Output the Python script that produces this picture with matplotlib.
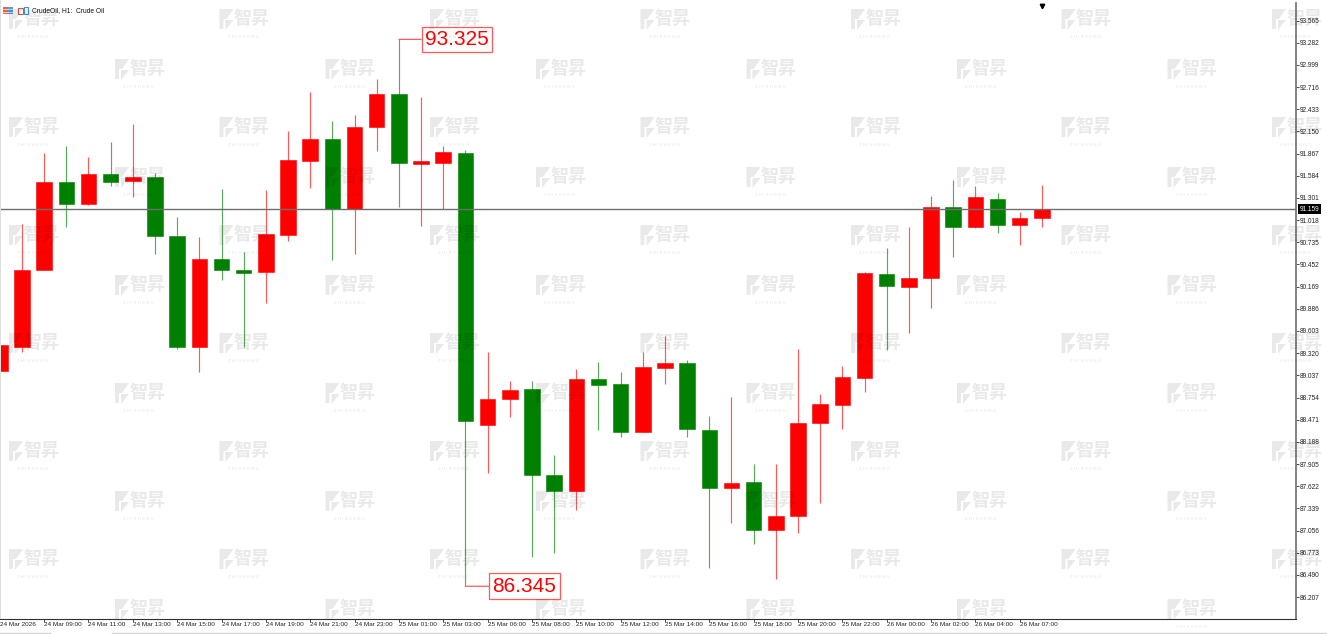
#!/usr/bin/env python3
"""CrudeOil H1 candlestick chart, MT5 look, with the ZHISHENG watermark."""

import matplotlib
matplotlib.use("Agg")
import matplotlib.pyplot as plt
from matplotlib.patches import Polygon, Rectangle
import numpy as np

W, H = 1327, 634
DPI = 100

opens = [89.088, 89.402, 90.377, 91.508, 91.227, 91.606, 91.513, 91.568, 90.819, 89.394, 90.525, 90.385,
         90.352, 90.832, 91.776, 92.049, 91.163, 92.202, 92.631, 91.738, 91.750, 91.878, 88.407, 88.731,
         88.862, 87.765, 87.557, 88.994, 88.922, 88.317, 89.130, 89.190, 88.339, 87.603, 87.675, 87.059,
         87.241, 88.432, 88.662, 88.999, 90.330, 90.164, 90.279, 91.189, 90.926, 91.287, 90.959, 91.041]
highs = [89.420, 90.964, 91.870, 91.967, 91.823, 92.011, 92.241, 91.619, 91.054, 90.802, 91.411, 90.611,
         91.402, 92.159, 92.657, 92.279, 92.355, 92.815, 93.325, 92.593, 91.960, 91.913, 89.331, 88.968,
         88.960, 88.020, 89.114, 89.203, 89.075, 89.331, 89.542, 89.232, 88.518, 88.764, 87.905, 87.905,
         89.369, 88.798, 89.156, 90.359, 90.658, 90.930, 91.329, 91.530, 91.453, 91.360, 91.125, 91.466]
lows = [89.088, 89.334, 90.377, 90.926, 91.207, 91.453, 91.317, 90.581, 89.377, 89.083, 90.253, 89.402,
        89.956, 90.755, 91.424, 90.509, 90.581, 91.900, 91.185, 90.946, 91.156, 86.345, 87.794, 88.501,
        86.722, 86.769, 87.318, 88.343, 88.253, 88.317, 88.930, 88.253, 86.574, 87.156, 86.884, 86.433,
        87.028, 87.403, 88.352, 88.820, 89.360, 89.573, 89.892, 90.543, 90.917, 90.857, 90.696, 90.934]
closes = [89.420, 90.381, 91.508, 91.227, 91.606, 91.504, 91.568, 90.819, 89.394, 90.525, 90.377, 90.347,
          90.837, 91.781, 92.053, 91.163, 92.206, 92.623, 91.750, 91.772, 91.887, 88.458, 88.738, 88.853,
          87.768, 87.557, 88.994, 88.917, 88.310, 89.139, 89.198, 88.348, 87.603, 87.666, 87.059, 87.241,
          88.428, 88.667, 89.012, 90.339, 90.173, 90.279, 91.189, 90.926, 91.313, 90.959, 91.049, 91.160]

price_ticks = [93.565, 93.282, 92.999, 92.716, 92.433, 92.150, 91.867, 91.584, 91.301, 91.018, 90.735,
               90.452, 90.169, 89.886, 89.603, 89.320, 89.037, 88.754, 88.471, 88.188, 87.905, 87.622,
               87.339, 87.056, 86.773, 86.490, 86.207]
time_ticks = [2, 4, 6, 8, 10, 12, 14, 16, 18, 20, 22, 24, 26, 28, 30, 32, 34, 36, 38, 40, 42, 44, 46]
time_labels = ["24 Mar 09:00", "24 Mar 11:00", "24 Mar 13:00", "24 Mar 15:00", "24 Mar 17:00", "24 Mar 19:00",
               "24 Mar 21:00", "24 Mar 23:00", "25 Mar 01:00", "25 Mar 03:00", "25 Mar 06:00", "25 Mar 08:00",
               "25 Mar 10:00", "25 Mar 12:00", "25 Mar 14:00", "25 Mar 16:00", "25 Mar 18:00", "25 Mar 20:00",
               "25 Mar 22:00", "26 Mar 00:00", "26 Mar 02:00", "26 Mar 04:00", "26 Mar 07:00"]
first_label = "24 Mar 2026"
last_price = 91.159
high_label = 93.325
low_label = 86.345
title = "CrudeOil, H1:  Crude Oil"

UP = "#ff0000"
DOWN = "#008000"
FONT = ["Liberation Sans", "DejaVu Sans"]

fig = plt.figure(figsize=(W / DPI, H / DPI), dpi=DPI, facecolor="white")
ax = fig.add_axes([0, (H - 619) / H, 1296 / W, 616 / H])
ax.set_xlim(0.009, 58.46)
ax.set_ylim(85.927, 93.789)

o, h, l, c = map(np.array, (opens, highs, lows, closes))
x = np.arange(len(o))
colors = [UP if b >= a else DOWN for a, b in zip(o, c)]
ax.vlines(x, l, h, colors=colors, lw=0.85, alpha=0.65, zorder=2)
ax.bar(x, np.abs(c - o), bottom=np.minimum(o, c), width=0.70, color=colors,
       edgecolor=colors, lw=0.4, zorder=3)

ax.axhline(last_price, color="#6e6e6e", lw=1.0, zorder=4)
ax.plot(x[-1], 93.789 - 0.035, marker="v", ms=3.2, color="k", clip_on=True, zorder=5)

# axis frame, MT5 style
for side in ("top", "left"):
    ax.spines[side].set_visible(False)
ax.spines["right"].set_color("#7a7a7a")
ax.spines["right"].set_linewidth(1.3)
ax.spines["bottom"].set_color("#303030")
ax.spines["bottom"].set_linewidth(0.8)
ax.yaxis.tick_right()
ax.set_yticks(price_ticks)
ax.set_yticklabels([f"{v:.3f}" for v in price_ticks], fontsize=4.7, family=FONT, color="#222222")
ax.tick_params(axis="y", length=2.2, width=0.6, pad=0.4, color="#303030")
ax.set_xticks(time_ticks)
ax.set_xticklabels(time_labels, fontsize=4.55, family=FONT, color="#222222", ha="left")
ax.tick_params(axis="x", length=2.2, width=0.6, pad=0.2, color="#303030")
ax.annotate(first_label, xy=(0, 0), xycoords="axes fraction", xytext=(0, -3), textcoords="offset pixels",
            fontsize=4.55, family=FONT, color="#222222", ha="left", va="top", annotation_clip=False)

# last price tag on the axis
ax.annotate(f"{last_price:.3f}", xy=(1, last_price), xycoords=("axes fraction", "data"),
            xytext=(4, 0), textcoords="offset pixels", fontsize=4.7, family=FONT, color="white",
            ha="left", va="center", annotation_clip=False,
            bbox=dict(boxstyle="square,pad=0.25", fc="black", ec="black", lw=0))

# high and low callouts
box = dict(boxstyle="square,pad=0.16", fc="white", ec="#ff5a5a", lw=0.9)
line = dict(arrowstyle="-", color="#ff5a5a", lw=0.9, shrinkA=0, shrinkB=0, relpos=(0, 0.5))
ax.annotate(f"{high_label:.3f}", xy=(int(np.argmax(h)), high_label), xytext=(26, 0), textcoords="offset pixels",
            fontsize=15, family=FONT, color=UP, ha="left", va="center", bbox=box, arrowprops=line, zorder=6)
ax.annotate(f"{low_label:.3f}", xy=(int(np.argmin(l)), low_label), xytext=(27, 0), textcoords="offset pixels",
            fontsize=15, family=FONT, color=UP, ha="left", va="center", bbox=box, arrowprops=line, zorder=6)

# pixel overlay for title, icons, left strip and the watermark
ov = fig.add_axes([0, 0, 1, 1], facecolor="none")
ov.set_xlim(0, W)
ov.set_ylim(H, 0)
ov.axis("off")

ov.add_patch(Rectangle((0, 0), 1.2, 619, fc="#dedede", ec="none"))
ov.plot([0, 50], [633, 633], color="#d4d4d4", lw=1)
ov.plot([112, W], [633, 633], color="#d4d4d4", lw=1)
ov.add_patch(Rectangle((3, 6.5), 4.5, 7.5, fc="#e8604c", ec="none"))
ov.add_patch(Rectangle((8, 6.5), 5, 7.5, fc="#5a9bd5", ec="none"))
for yy in (9, 11.5):
    ov.plot([3, 13], [yy, yy], color="white", lw=0.5)
ov.add_patch(Rectangle((18, 8), 4.5, 6, fc="none", ec="#d9574a", lw=0.8))
ov.add_patch(Rectangle((23.5, 6.5), 4, 7.5, fc="none", ec="#4a90c8", lw=0.8))
ov.text(32, 10.3, title, fontsize=4.8, family=FONT, color="#111111", ha="left", va="center")


def watermark(x0, y0):
    # slanted logo mark, then the two characters and the spaced name below
    shade = dict(fc="black", ec="none", alpha=0.085, zorder=8)
    ov.add_patch(Polygon([(x0, y0 + 1), (x0 + 14, y0 + 1), (x0 + 7, y0 + 11), (x0 + 4, y0 + 11),
                          (x0 + 4, y0 + 21), (x0, y0 + 21)], **shade))
    ov.add_patch(Polygon([(x0 + 6, y0 + 12), (x0 + 14, y0 + 12), (x0 + 6, y0 + 22)], **shade))
    ov.text(x0 + 32, y0 + 10.5, "智昇", fontsize=13, fontweight="bold",
            family=["Noto Sans CJK SC", "DejaVu Sans"], color="black", alpha=0.085,
            ha="center", va="center", zorder=8)
    ov.text(x0 + 24, y0 + 28.5, "Z H I S H E N G", fontsize=3.2, family=FONT, color="black", alpha=0.11,
            ha="center", va="center", zorder=8)


for row in range(12):
    top = 8 + 108 * (row // 2) + 50 * (row % 2)
    start = 115 if row % 2 else 9
    for col in range(7):
        left = start + 210.5 * col
        if left < W:
            watermark(left, top)

fig.savefig("out.png", dpi=DPI)
